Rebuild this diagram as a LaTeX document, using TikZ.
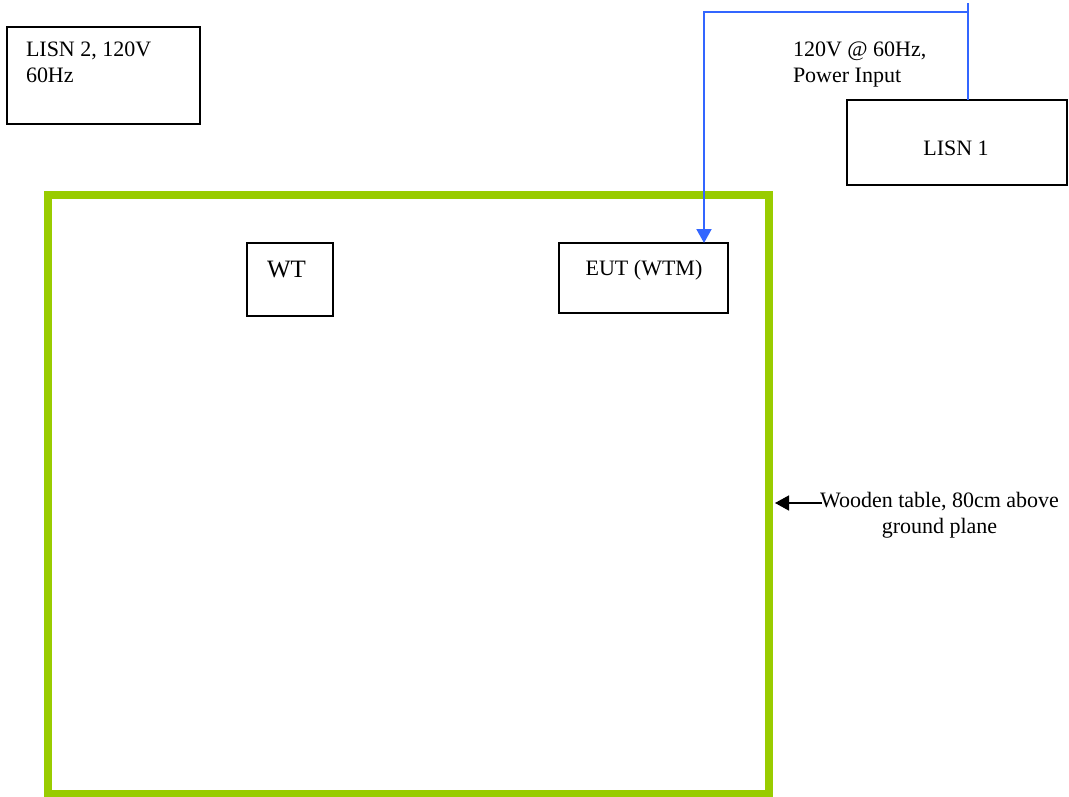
\documentclass[tikz,border=0pt]{standalone}
\usepackage{fontspec}
\setmainfont{Liberation Serif}
\usetikzlibrary{arrows.meta}
\definecolor{tablegreen}{HTML}{99CC00}
\definecolor{wireblue}{HTML}{3366FF}
\tikzset{
  box/.style={draw=black, line width=1.8pt, rectangle, inner sep=0pt, outer sep=0pt},
  txt/.style={font=\fontsize{22}{26}\selectfont, inner sep=0pt, outer sep=0pt},
  wire/.style={draw=wireblue, line width=2pt},
  tip/.style={-{Triangle[length=14pt,width=15pt]}}
}
\begin{document}
\begin{tikzpicture}[x=1pt,y=-1pt]
\useasboundingbox (0,0) rectangle (1069,797);
% table
\node[draw=tablegreen, line width=8pt, rectangle, inner sep=0pt, outer sep=0pt, minimum width=721.5pt, minimum height=599pt] (table) at (408.25,494.5) {};
% boxes
\node[box, minimum width=192.7pt, minimum height=97pt] (lisn2) at (103.7,75.5) {};
\node[txt, align=left, anchor=base west] (lisn2t) at (26,83) {LISN 2, 120V\\60Hz};
\node[box, minimum width=219.7pt, minimum height=85pt] (lisn1) at (957.2,142.5) {};
\node[txt, anchor=base] (lisn1t) at (956,156) {LISN 1};
\node[box, minimum width=86pt, minimum height=72.4pt] (wt) at (289.7,279.5) {};
\node[txt, font=\fontsize{25}{30}\selectfont, anchor=base] (wtt) at (286.5,277) {WT};
\node[box, minimum width=169pt, minimum height=70pt] (eut) at (643.5,278) {};
\node[txt, anchor=base] (eutt) at (644,275) {EUT (WTM)};
% labels
\node[txt, align=left, anchor=base west] (pwr) at (793,83) {120V @ 60Hz,\\Power Input};
\node[txt, align=center, anchor=base] (wood) at (939.5,533) {Wooden table, 80cm above\\ground plane};
% wiring
\coordinate (rtop) at (968,3);
\coordinate (rcorner) at (968,12);
\coordinate (lcorner) at (704,12);
\draw[wire] (lisn1.north -| rtop) -- (rtop);
\draw[wire, tip] (rcorner) -- (lcorner) -- (eut.north -| lcorner);
\coordinate (woodarrow) at (822,503);
\draw[line width=1.5pt, tip] (woodarrow) -- ([xshift=6pt]table.east |- woodarrow);
\end{tikzpicture}
\end{document}
